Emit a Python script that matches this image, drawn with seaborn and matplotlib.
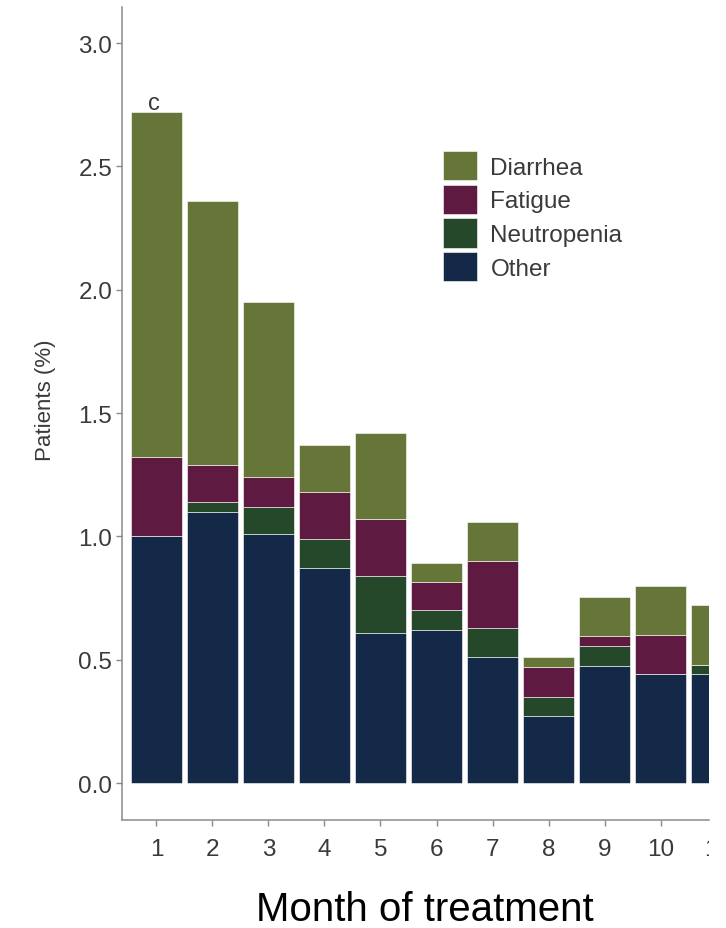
import matplotlib
matplotlib.use("Agg")
import matplotlib.pyplot as plt
from matplotlib.transforms import Bbox
import pandas as pd
import seaborn as sns

# Share of patients with a dose-limiting event, by month of treatment (%)
months = [1, 2, 3, 4, 5, 6, 7, 8, 9, 10, 11]
other = [1.00, 1.10, 1.01, 0.87, 0.61, 0.62, 0.51, 0.27, 0.475, 0.44, 0.44]
neutropenia = [0.00, 0.04, 0.11, 0.12, 0.23, 0.08, 0.12, 0.08, 0.08, 0.00, 0.04]
fatigue = [0.32, 0.15, 0.12, 0.19, 0.23, 0.115, 0.27, 0.12, 0.04, 0.16, 0.00]
diarrhea = [1.40, 1.07, 0.71, 0.19, 0.35, 0.077, 0.16, 0.04, 0.16, 0.20, 0.24]

events = ["Diarrhea", "Fatigue", "Neutropenia", "Other"]
colors = ["#667538", "#5e1a40", "#25482a", "#142948"]
y_ticks = [0.0, 0.5, 1.0, 1.5, 2.0, 2.5, 3.0]
x_ticks = [1, 2, 3, 4, 5, 6, 7, 8, 9, 10]
first_bar_note = "c"

series = {"Diarrhea": diarrhea, "Fatigue": fatigue,
          "Neutropenia": neutropenia, "Other": other}
df = pd.DataFrame(
    [(m, ev, v) for ev in events for m, v in zip(months, series[ev])],
    columns=["month", "event", "pct"],
)

sns.set_style("ticks")
plt.rcParams["font.family"] = ["Liberation Sans", "DejaVu Sans"]

W, H = 726, 929
fig = plt.figure(figsize=(W / 100, H / 100), dpi=100)
ax = fig.add_axes([122 / W, 1 - 821 / H, (709 - 122) / W, (821 - 8) / H])

sns.histplot(
    data=df, x="month", weights="pct", hue="event", hue_order=events,
    palette=colors, multiple="stack", discrete=True, shrink=0.9,
    alpha=1, edgecolor="white", linewidth=0.4, ax=ax,
)

ax.set_xlim(0.384, 10.866)
ax.set_ylim(-0.15, 3.146)
ax.set_xticks(x_ticks)
ax.set_xticklabels([str(t) for t in x_ticks])
ax.set_yticks(y_ticks)
ax.set_yticklabels([f"{t:.1f}" for t in y_ticks])

grey_txt = "#3a3a3a"
ax.tick_params(axis="both", labelsize=17.5, colors="#8a8a8a",
               labelcolor=grey_txt, length=4, width=1.0)
ax.tick_params(axis="x", pad=9)
ax.tick_params(axis="y", pad=3)

sns.despine(ax=ax)
for side in ("left", "bottom"):
    ax.spines[side].set_color("#8a8a8a")
    ax.spines[side].set_linewidth(1.1)

ax.set_ylabel("Patients (%)", fontsize=16, color=grey_txt)
ax.yaxis.set_label_coords(-0.112, 0.517)
ax.set_xlabel("Month of treatment", fontsize=29, color="black")
ax.xaxis.set_label_coords(0.516, -0.086)

# Month 11 runs off the right edge of the panel
lab11 = ax.text(11, -0.0225, "11", transform=ax.get_xaxis_transform(),
                ha="center", va="top", fontsize=17.5, color=grey_txt,
                clip_on=True)
ax.xaxis.get_major_ticks()[0].label1  # ensure ticks are built
lab11.set_clip_box(Bbox([[0, 0], [709, H]]))

# Footnote marker over the first bar
total_first = diarrhea[0] + fatigue[0] + neutropenia[0] + other[0]
ax.annotate(first_bar_note, xy=(months[0], total_first), xytext=(-1.5, 2.5),
            textcoords="offset points", ha="center", va="baseline",
            fontsize=17, color=grey_txt)

sns.move_legend(
    ax, "upper left", bbox_to_anchor=(443 / W, 1 - 152 / H),
    bbox_transform=fig.transFigure, frameon=False, title=None,
    fontsize=17.5, handlelength=1.4, handleheight=1.48, labelspacing=0.18,
    handletextpad=0.55, borderpad=0, borderaxespad=0,
)
for t in ax.get_legend().get_texts():
    t.set_color(grey_txt)

fig.savefig("out.png", dpi=100)
